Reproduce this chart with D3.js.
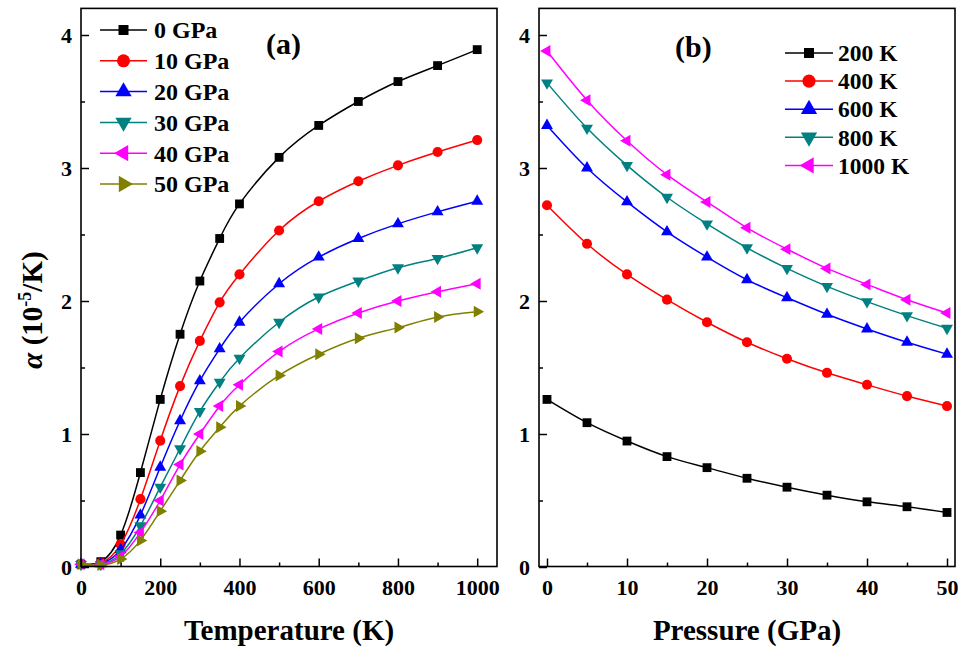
<!DOCTYPE html>
<html>
<head>
<meta charset="utf-8">
<script src="https://cdn.jsdelivr.net/npm/d3@7"></script>
<style>
  html, body { margin: 0; padding: 0; background: #fff; }
  svg { display: block; font-family: "Liberation Serif", "Times New Roman", serif; font-weight: bold; }
</style>
</head>
<body>
<svg id="chart" width="963" height="650"></svg>
<script>
// Thermal expansion coefficient alpha (1e-5 /K)

// Panel (a): alpha vs temperature at fixed pressure
const temperatures = [0, 50, 100, 150, 200, 250, 300, 350, 400, 500, 600, 700, 800, 900, 1000];
const pressureLabels = ["0 GPa", "10 GPa", "20 GPa", "30 GPa", "40 GPa", "50 GPa"];
const alpha0GPa  = [0.02, 0.04, 0.24, 0.71, 1.26, 1.75, 2.15, 2.47, 2.73, 3.08, 3.32, 3.50, 3.65, 3.77, 3.89];
const alpha10GPa = [0.02, 0.03, 0.17, 0.51, 0.95, 1.36, 1.70, 1.99, 2.20, 2.53, 2.75, 2.90, 3.02, 3.12, 3.21];
const alpha20GPa = [0.02, 0.025, 0.13, 0.39, 0.75, 1.10, 1.40, 1.64, 1.84, 2.13, 2.33, 2.47, 2.58, 2.67, 2.75];
const alpha30GPa = [0.02, 0.02, 0.10, 0.31, 0.60, 0.89, 1.17, 1.39, 1.57, 1.84, 2.03, 2.15, 2.25, 2.32, 2.40];
const alpha40GPa = [0.02, 0.02, 0.08, 0.26, 0.50, 0.77, 1.00, 1.21, 1.37, 1.62, 1.79, 1.91, 2.00, 2.07, 2.13];
const alpha50GPa = [0.02, 0.015, 0.06, 0.20, 0.42, 0.65, 0.87, 1.05, 1.21, 1.44, 1.60, 1.72, 1.80, 1.88, 1.92];

// Panel (b): alpha vs pressure at fixed temperature
const pressures = [0, 5, 10, 15, 20, 25, 30, 35, 40, 45, 50];
const temperatureLabels = ["200 K", "400 K", "600 K", "800 K", "1000 K"];
const alpha200K  = [1.26, 1.085, 0.947, 0.83, 0.747, 0.667, 0.60, 0.54, 0.49, 0.453, 0.41];
const alpha400K  = [2.72, 2.43, 2.20, 2.01, 1.84, 1.69, 1.566, 1.46, 1.37, 1.285, 1.21];
const alpha600K  = [3.32, 3.00, 2.745, 2.52, 2.33, 2.16, 2.025, 1.90, 1.79, 1.69, 1.60];
const alpha800K  = [3.64, 3.30, 3.02, 2.78, 2.58, 2.40, 2.245, 2.11, 1.995, 1.89, 1.795];
const alpha1000K = [3.88, 3.51, 3.205, 2.95, 2.745, 2.55, 2.39, 2.245, 2.125, 2.01, 1.91];

// Axis ticks
const yMajorTicks = [0, 1, 2, 3, 4];
const yMinorTicks = [0.5, 1.5, 2.5, 3.5];
const tMajorTicks = [0, 200, 400, 600, 800, 1000];
const tMinorTicks = [100, 300, 500, 700, 900];
const pMajorTicks = [0, 10, 20, 30, 40, 50];
const pMinorTicks = [5, 15, 25, 35, 45];

// Series styling (colour + marker) shared by both panels
const colors = ["#000000", "#ff0000", "#0000ff", "#008080", "#ff00ff", "#808000"];
const markers = [
  { type: d3.symbolSquare,   rot: 0 },
  { type: d3.symbolCircle,   rot: 0 },
  { type: d3.symbolTriangle, rot: 0 },
  { type: d3.symbolTriangle, rot: 180 },
  { type: d3.symbolTriangle, rot: -90 },
  { type: d3.symbolTriangle, rot: 90 }
];
const plotSize = [78, 80, 62, 62, 62, 62];
const legendSize = [100, 135, 115, 115, 115, 115];

const svg = d3.select("#chart");
const FONT_TICK = 22, FONT_LEGEND = 24, FONT_TITLE = 29;

function drawPanel(opt) {
  const x = d3.scaleLinear().domain(opt.xDomain).range([opt.left, opt.right]);
  const y = d3.scaleLinear().domain([0, 4.2]).range([567, 8.4]);
  const g = svg.append("g");

  // series lines and markers
  opt.series.forEach((vals, i) => {
    const pts = opt.xs.map((xv, j) => [xv, vals[j]]);
    g.append("path")
      .attr("d", d3.line().x(d => x(d[0])).y(d => y(d[1])).curve(d3.curveNatural)(pts))
      .attr("fill", "none").attr("stroke", colors[i]).attr("stroke-width", 1.5);
    g.selectAll(null).data(pts).enter().append("path")
      .attr("d", d3.symbol().type(markers[i].type).size(plotSize[i]))
      .attr("transform", d => `translate(${x(d[0])},${y(d[1])}) rotate(${markers[i].rot})`)
      .attr("fill", colors[i]);
  });

  // axes: ticks point inward
  const bottom = 566.5;
  g.append("g").attr("transform", `translate(0,${bottom})`)
    .call(d3.axisBottom(x).tickValues(opt.xMajor).tickSize(-8).tickPadding(13).tickFormat(d3.format("d")));
  g.append("g").attr("transform", `translate(0,${bottom})`)
    .call(d3.axisBottom(x).tickValues(opt.xMinor).tickSize(-4).tickFormat(""));
  g.append("g").attr("transform", `translate(${opt.left},0)`)
    .call(d3.axisLeft(y).tickValues(yMajorTicks).tickSize(-8).tickPadding(opt.yPad).tickFormat(d3.format("d")));
  g.append("g").attr("transform", `translate(${opt.left},0)`)
    .call(d3.axisLeft(y).tickValues(yMinorTicks).tickSize(-4).tickFormat(""));
  g.selectAll(".domain").remove();
  g.selectAll(".tick line").attr("stroke", "#000").attr("stroke-width", 1.5);
  g.selectAll(".tick text").attr("font-size", FONT_TICK).attr("font-family", "Liberation Serif, serif")
    .attr("font-weight", "bold").attr("fill", "#000");

  // frame
  g.append("rect").attr("x", opt.left).attr("y", 8.4)
    .attr("width", opt.right - opt.left).attr("height", bottom - 8.4)
    .attr("fill", "none").attr("stroke", "#000").attr("stroke-width", 1.6);

  // x-axis title
  g.append("text").attr("x", (opt.left + opt.right) / 2).attr("y", 640)
    .attr("text-anchor", "middle").attr("font-size", FONT_TITLE).text(opt.xTitle);

  // panel tag
  g.append("text").attr("x", opt.tag.x).attr("y", opt.tag.y)
    .attr("font-size", 30).text(opt.tag.text);

  // legend
  opt.legend.labels.forEach((lab, i) => {
    const ly = opt.legend.y0 + i * opt.legend.dy;
    const L = opt.legend;
    g.append("line").attr("x1", L.x1).attr("x2", L.x2).attr("y1", ly).attr("y2", ly)
      .attr("stroke", colors[i]).attr("stroke-width", 1.5);
    g.append("path").attr("d", d3.symbol().type(markers[i].type).size(legendSize[i]))
      .attr("transform", `translate(${(L.x1 + L.x2) / 2},${ly}) rotate(${markers[i].rot})`)
      .attr("fill", colors[i]);
    g.append("text").attr("x", L.tx).attr("y", ly).attr("dy", "0.35em")
      .attr("font-size", L.font).text(lab);
  });
}

drawPanel({
  left: 81, right: 497, xDomain: [0, 1050], xs: temperatures,
  series: [alpha0GPa, alpha10GPa, alpha20GPa, alpha30GPa, alpha40GPa, alpha50GPa],
  xMajor: tMajorTicks, xMinor: tMinorTicks, yPad: 9,
  xTitle: "Temperature (K)",
  tag: { x: 266, y: 54, text: "(a)" },
  legend: { labels: pressureLabels, x1: 100, x2: 147, tx: 154, y0: 30, dy: 30.8, font: FONT_LEGEND }
});

drawPanel({
  left: 539, right: 955, xDomain: [-1, 51], xs: pressures,
  series: [alpha200K, alpha400K, alpha600K, alpha800K, alpha1000K],
  xMajor: pMajorTicks, xMinor: pMinorTicks, yPad: 9,
  xTitle: "Pressure (GPa)",
  tag: { x: 675, y: 57, text: "(b)" },
  legend: { labels: temperatureLabels, x1: 785, x2: 833, tx: 838, y0: 53, dy: 28.1, font: 23.5 }
});

// shared y-axis title: alpha (10^-5 /K)
const yTitle = svg.append("text")
  .attr("transform", "translate(42,310) rotate(-90)")
  .attr("text-anchor", "middle").attr("font-size", FONT_TITLE);
yTitle.append("tspan").attr("font-style", "italic").text("α");
yTitle.append("tspan").text(" (10");
yTitle.append("tspan").attr("font-size", 18).attr("dy", "-0.6em").text("-5");
yTitle.append("tspan").attr("dy", "0.38em").text("/K)");
</script>
</body>
</html>
